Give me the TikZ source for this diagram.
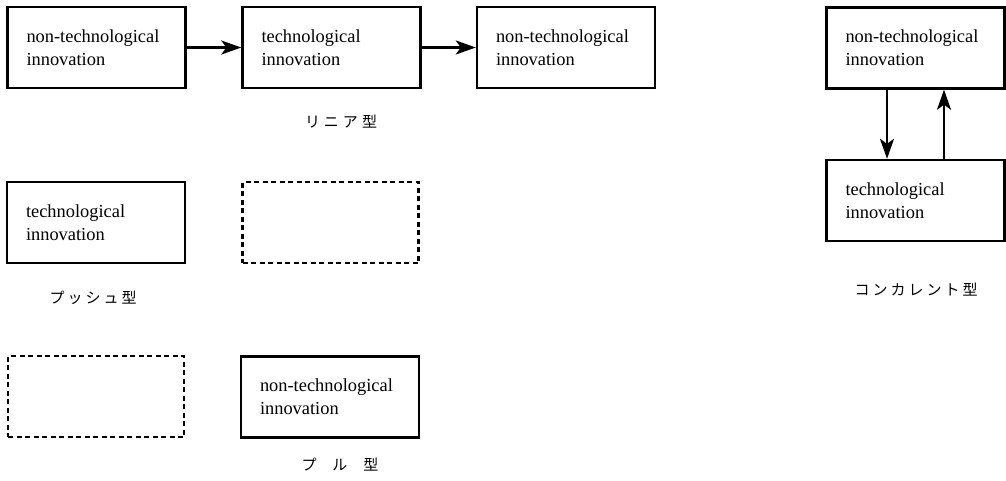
\documentclass[tikz,border=0pt]{standalone}
\usepackage{fontspec}
\setmainfont{Liberation Serif}
\newfontfamily\jpfont{Noto Sans CJK JP}
\usetikzlibrary{arrows.meta}
\begin{document}
\begin{tikzpicture}[x=1pt,y=-1pt,
  box/.style={draw, line width=2.4pt, minimum width=178pt, minimum height=81pt,
    inner xsep=19pt, text width=140pt, align=left,
    font=\fontsize{18.4}{23.3}\selectfont},
  ghost/.style={draw, line width=2.2pt, dash pattern=on 5pt off 3.5pt,
    minimum width=176pt, minimum height=81pt},
  flow/.style={-{Stealth[length=20pt,width=14pt,inset=5pt]}, line width=2.4pt},
  tag/.style={font=\jpfont\fontsize{15}{15}\selectfont, inner sep=0pt}]
\useasboundingbox (0,0) rectangle (1006,480);

% linear model
\node[box] (lin1) at (96.5,47.5) {non-technological\\innovation};
\node[box] (lin2) at (331.5,47.5) {technological\\innovation};
\node[box] (lin3) at (566,47.5) {non-technological\\innovation};
\draw[flow] (lin1) -- (lin2);
\draw[flow] (lin2) -- (lin3);
\node[tag] (linlbl) at (341,122) {リ\hspace{4pt}ニ\hspace{4pt}ア\hspace{4pt}型};

% push model
\node[box] (push1) at (96,222.5) {technological\\innovation};
\node[ghost] (push2) at (330.5,222.5) {};
\node[tag] (pushlbl) at (93,298) {プ\hspace{3pt}ッ\hspace{3pt}シ\hspace{3pt}ュ\hspace{3pt}型};

% pull model
\node[ghost] (pull1) at (96,396.5) {};
\node[box] (pull2) at (330,397) {non-technological\\innovation};
\node[tag] (pulllbl) at (340,465) {プ\hspace{16pt}ル\hspace{16pt}型};

% concurrent model
\node[box] (con1) at (915.5,48) {non-technological\\innovation};
\node[box] (con2) at (915.5,200.5) {technological\\innovation};
\draw[flow] ([xshift=-28.5pt]con1.south) -- ([xshift=-28.5pt]con2.north);
\draw[flow] ([xshift=28.5pt]con2.north) -- ([xshift=28.5pt]con1.south);
\node[tag] (conlbl) at (916,290) {コ\hspace{3pt}ン\hspace{3pt}カ\hspace{3pt}レ\hspace{3pt}ン\hspace{3pt}ト\hspace{3pt}型};
\end{tikzpicture}
\end{document}
